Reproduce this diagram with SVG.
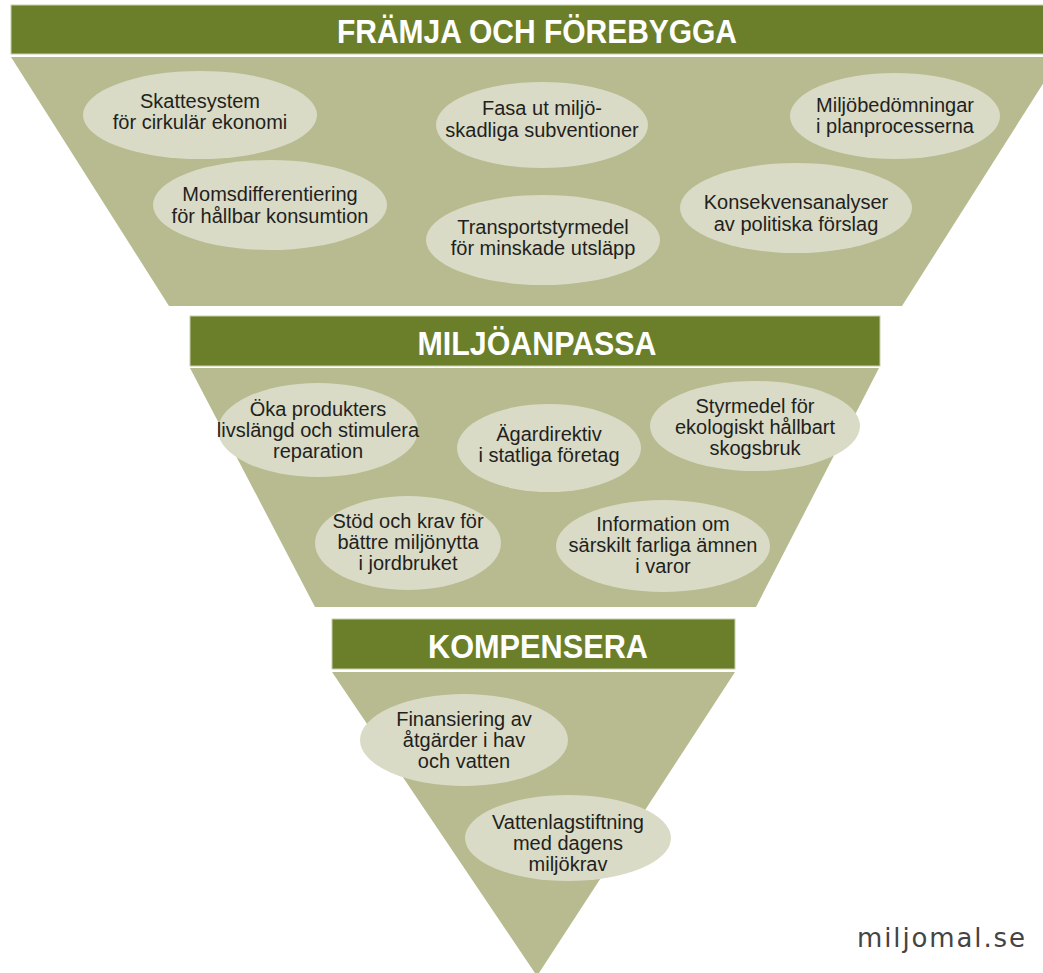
<svg xmlns="http://www.w3.org/2000/svg" width="1043" height="973" viewBox="0 0 1043 973">
<style>
.band{fill:#6b7f2b;stroke:#c9cfae;stroke-width:1}
.tier{fill:#b7bb8f}
.oval{fill:#d9dbc6}
.head{font-family:"Liberation Sans",Arial,sans-serif;font-weight:bold;font-size:33px;fill:#ffffff;text-anchor:middle}
.lbl{font-family:"Liberation Sans",Arial,sans-serif;font-size:20px;fill:#231f20;text-anchor:middle}
.mark{font-family:"DejaVu Sans","Liberation Sans",sans-serif;font-size:26px;fill:#444444}
</style>
<rect width="1043" height="973" fill="#ffffff"/>
<g id="tier1">
<polygon class="tier" points="11,57 1060,57 902,306 169,306"/>
<rect class="band" x="11" y="5" width="1040" height="49"/>
<text class="head" x="537" y="43" textLength="400" lengthAdjust="spacingAndGlyphs">FRÄMJA OCH FÖREBYGGA</text>
</g>
<g id="tier2">
<polygon class="tier" points="190,368 879,368 756,607 315,607"/>
<rect class="band" x="190" y="316" width="690" height="50"/>
<text class="head" x="537" y="355" textLength="239" lengthAdjust="spacingAndGlyphs">MILJÖANPASSA</text>
</g>
<g id="tier3">
<polygon class="tier" points="332,672 735,672 537,976"/>
<rect class="band" x="332" y="619" width="403" height="50"/>
<text class="head" x="538" y="658" textLength="220" lengthAdjust="spacingAndGlyphs">KOMPENSERA</text>
</g>
<g id="n1"><ellipse class="oval" cx="200" cy="115" rx="117" ry="44"/><text class="lbl" x="200" y="108">Skattesystem</text><text class="lbl" x="200" y="129">för cirkulär ekonomi</text></g>
<g id="n2"><ellipse class="oval" cx="542" cy="125" rx="106" ry="43"/><text class="lbl" x="542" y="115">Fasa ut miljö-</text><text class="lbl" x="542" y="137">skadliga subventioner</text></g>
<g id="n3"><ellipse class="oval" cx="895" cy="116" rx="105" ry="43"/><text class="lbl" x="895" y="112">Miljöbedömningar</text><text class="lbl" x="895" y="133">i planprocesserna</text></g>
<g id="n4"><ellipse class="oval" cx="270" cy="205" rx="117" ry="45"/><text class="lbl" x="270" y="201">Momsdifferentiering</text><text class="lbl" x="270" y="223">för hållbar konsumtion</text></g>
<g id="n5"><ellipse class="oval" cx="543" cy="240" rx="117" ry="45"/><text class="lbl" x="543" y="234">Transportstyrmedel</text><text class="lbl" x="543" y="255">för minskade utsläpp</text></g>
<g id="n6"><ellipse class="oval" cx="796" cy="208" rx="116" ry="45"/><text class="lbl" x="796" y="209">Konsekvensanalyser</text><text class="lbl" x="796" y="231">av politiska förslag</text></g>
<g id="n7"><ellipse class="oval" cx="318" cy="430" rx="100" ry="47"/><text class="lbl" x="318" y="416">Öka produkters</text><text class="lbl" x="318" y="437">livslängd och stimulera</text><text class="lbl" x="318" y="458">reparation</text></g>
<g id="n8"><ellipse class="oval" cx="549" cy="448" rx="92" ry="44"/><text class="lbl" x="549" y="441">Ägardirektiv</text><text class="lbl" x="549" y="462">i statliga företag</text></g>
<g id="n9"><ellipse class="oval" cx="755" cy="426" rx="105" ry="45"/><text class="lbl" x="755" y="413">Styrmedel för</text><text class="lbl" x="755" y="434">ekologiskt hållbart</text><text class="lbl" x="755" y="455">skogsbruk</text></g>
<g id="n10"><ellipse class="oval" cx="408" cy="543" rx="93" ry="47"/><text class="lbl" x="408" y="528">Stöd och krav för</text><text class="lbl" x="408" y="549">bättre miljönytta</text><text class="lbl" x="408" y="570">i jordbruket</text></g>
<g id="n11"><ellipse class="oval" cx="663" cy="546" rx="107" ry="46"/><text class="lbl" x="663" y="531">Information om</text><text class="lbl" x="663" y="552">särskilt farliga ämnen</text><text class="lbl" x="663" y="573">i varor</text></g>
<g id="n12"><ellipse class="oval" cx="464" cy="740" rx="104" ry="46"/><text class="lbl" x="464" y="726">Finansiering av</text><text class="lbl" x="464" y="747">åtgärder i hav</text><text class="lbl" x="464" y="768">och vatten</text></g>
<g id="n13"><ellipse class="oval" cx="568" cy="838" rx="103" ry="43"/><text class="lbl" x="568" y="829">Vattenlagstiftning</text><text class="lbl" x="568" y="850">med dagens</text><text class="lbl" x="568" y="871">miljökrav</text></g>
<g id="connectors"></g>
<text class="mark" x="857" y="947" textLength="168" lengthAdjust="spacing">miljomal.se</text>
</svg>
